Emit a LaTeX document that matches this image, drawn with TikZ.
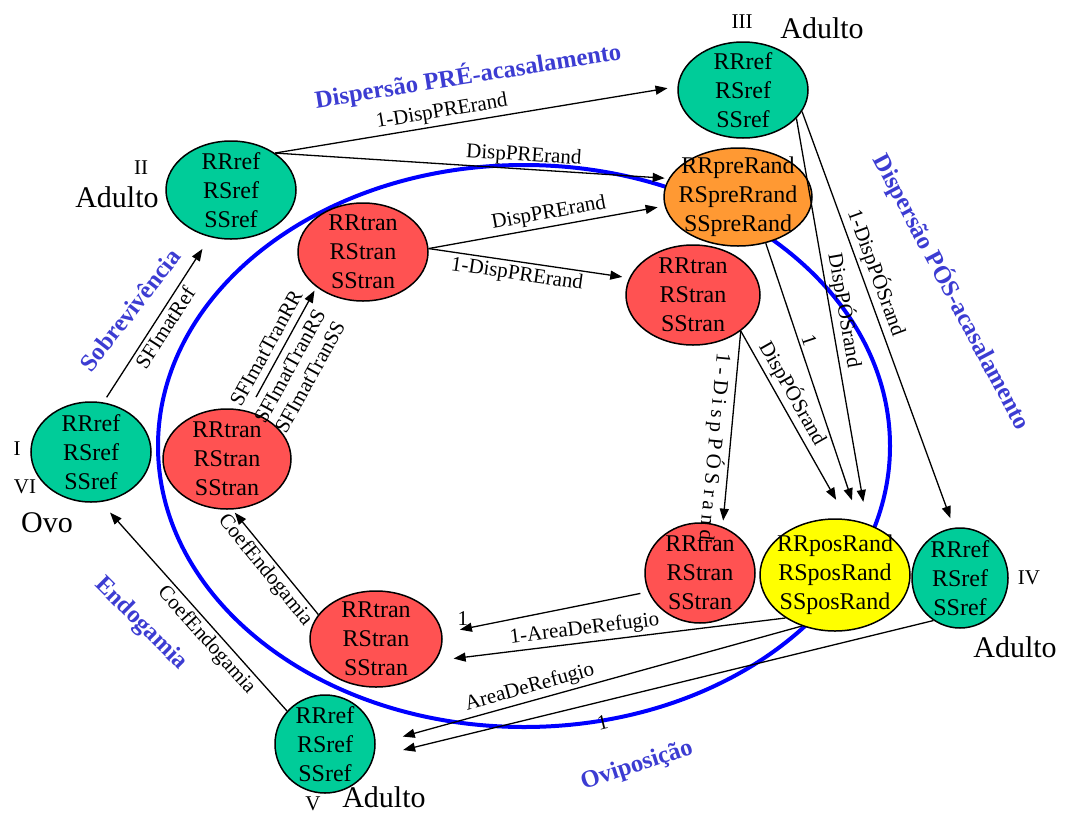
\documentclass[tikz,border=0pt]{standalone}
\usepackage{fontspec}
\setmainfont{Liberation Serif}
\usepackage{tikz}
\usetikzlibrary{shapes.geometric,arrows.meta}
\definecolor{verde}{RGB}{0,204,153}
\definecolor{vermelho}{RGB}{255,82,82}
\definecolor{laranja}{RGB}{255,153,51}
\definecolor{amarelo}{RGB}{255,255,0}
\definecolor{azulfase}{RGB}{60,60,210}
\tikzset{
  estagio/.style={ellipse, draw, line width=0.75pt, inner sep=0pt},
  gref/.style={estagio, fill=verde},
  gtran/.style={estagio, fill=vermelho},
  gpre/.style={estagio, fill=laranja},
  gpos/.style={estagio, fill=amarelo},
  genotipo/.style={align=center, inner sep=0pt, font=\fontsize{12}{14.5}\selectfont},
  taxa/.style={inner sep=1.5pt, font=\fontsize{10.5}{11.5}\selectfont},
  fase/.style={text=azulfase, font=\bfseries\fontsize{12.3}{14}\selectfont},
  rotulo/.style={font=\fontsize{15}{17}\selectfont},
  numeral/.style={font=\fontsize{10.5}{12}\selectfont},
  seta/.style={-{Triangle[length=6pt,width=4.5pt]}, line width=0.65pt, shorten >=2pt},
}

\begin{document}
\begin{tikzpicture}[x=0.5pt,y=-0.5pt]
\useasboundingbox (0,0) rectangle (1076,814);

% ciclo
\draw[blue, line width=2pt] (524,446) ellipse [x radius=183pt, y radius=140.5pt];

% estagios
\node[gref, minimum width=60pt, minimum height=50pt, label={[genotipo]center:RRref\\RSref\\SSref}] (ovo) at (91,452) {};
\node[gref, minimum width=65pt, minimum height=49pt, label={[genotipo]center:RRref\\RSref\\SSref}] (adII) at (231,190) {};
\node[gref, minimum width=65pt, minimum height=48pt, label={[genotipo]center:RRref\\RSref\\SSref}] (adIII) at (743,90) {};
\node[gpre, minimum width=74pt, minimum height=49pt, label={[genotipo]center:RRpreRand\\RSpreRrand\\SSpreRand}] (pre) at (738,197) {};
\node[gtran, minimum width=65pt, minimum height=49pt, label={[genotipo]center:RRtran\\RStran\\SStran}] (tranA) at (363,252) {};
\node[gtran, minimum width=67pt, minimum height=50pt, label={[genotipo]center:RRtran\\RStran\\SStran}] (tranB) at (693,295) {};
\node[gtran, minimum width=55pt, minimum height=50pt, label={[genotipo]center:RRtran\\RStran\\SStran}] (tranC) at (700,573) {};
\node[gpos, minimum width=75pt, minimum height=56pt, label={[genotipo]center:RRposRand\\RSposRand\\SSposRand}] (pos) at (835,575) {};
\node[gref, minimum width=48pt, minimum height=50pt, label={[genotipo]center:RRref\\RSref\\SSref}] (adIV) at (960,578) {};
\node[gtran, minimum width=66pt, minimum height=48pt, label={[genotipo]center:RRtran\\RStran\\SStran}] (tranD) at (376,639) {};
\node[gref, minimum width=50pt, minimum height=49pt, label={[genotipo]center:RRref\\RSref\\SSref}] (adV) at (325,744) {};
\node[gtran, minimum width=64pt, minimum height=50pt, label={[genotipo]center:RRtran\\RStran\\SStran}] (tranE) at (227,459) {};

% rotulos
\node[numeral] (nI) at (17,449) {I};
\node[numeral] (nVI) at (25,487) {VI};
\node[rotulo] (ovoTxt) at (47,523) {Ovo};
\node[numeral] (nII) at (141,168) {II};
\node[rotulo] (adIITxt) at (117,197) {Adulto};
\node[numeral] (nIII) at (742,22) {III};
\node[rotulo] (adIIITxt) at (822,28) {Adulto};
\node[numeral] (nIV) at (1029,578) {IV};
\node[rotulo] (adIVTxt) at (1015,647) {Adulto};
\node[numeral] (nV) at (313,804) {V};
\node[rotulo] (adVTxt) at (384,797) {Adulto};

% fases
\node[fase, rotate=9] (fPre) at (468,76) {Dispersão PRÉ-acasalamento};
\node[fase, rotate=-62] (fPos) at (952,292) {Dispersão PÓS-acasalamento};
\node[fase, rotate=18] (fOvi) at (637,766) {Oviposição};
\node[fase, rotate=-45] (fEnd) at (141,624) {Endogamia};
\node[fase, rotate=52] (fSob) at (130,310) {Sobrevivência};

% dispersao pre
\draw[seta, shorten >=5pt] (adII.40) -- node[taxa, sloped, above, pos=0.42] {1-DispPRErand} (adIII.177);
\draw[seta] (adII.40) -- node[taxa, sloped, above, pos=0.63] {DispPRErand} (pre.165);
\draw[seta, shorten >=3.5pt] (tranA.3) -- node[taxa, sloped, above, pos=0.52] {DispPRErand} (pre.187);
\draw[seta, shorten >=3.5pt] (tranA.3) -- node[taxa, sloped, below, pos=0.45] {1-DispPRErand} (tranB.165);

% dispersao pos
\draw[seta, shorten >=3pt] (tranB.-37) -- node[taxa, sloped, below, pos=0.6, allow upside down] {\addfontfeature{LetterSpace=22}1-DispPÓSrand} (tranC.64);
\draw[seta, shorten >=11pt] (tranB.-37) -- node[taxa, sloped, above, pos=0.37] {DispPÓSrand} (pos.78);
\draw[seta, shorten >=11pt] (pre.-59) -- node[taxa, sloped, above, pos=0.36] {1} (pos.66);
\draw[seta, shorten >=11pt] (adIII.-28) -- node[taxa, sloped, above, pos=0.48] {DispPÓSrand} (pos.58);
\draw[seta, shorten >=5pt] (adIII.-20) -- node[taxa, sloped, above, pos=0.40] {1-DispPÓSrand} (adIV.97);

% oviposicao
\draw[seta, shorten <=4pt, shorten >=9pt] (tranC.200) -- node[taxa, above, pos=0.9] {1} (tranD.5);
\draw[seta, shorten >=9pt] (pos.221) -- node[taxa, sloped, above, pos=0.57] {1-AreaDeRefugio} (tranD.-20);
\draw[seta, shorten >=14pt] (pos.237) -- node[taxa, sloped, above, pos=0.63] {AreaDeRefugio} (adV.0);
\draw[seta, shorten >=15pt] (adIV.238) -- node[taxa, sloped, below=5pt, pos=0.6] {1} (adV.-15);

% endogamia
\draw[seta, shorten >=2pt] (tranD.157) -- node[taxa, sloped, below, pos=0.5] {CoefEndogamia} (tranE.276);
\draw[seta, shorten >=7pt] (adV.139) -- node[taxa, sloped, below, pos=0.38] {CoefEndogamia} (ovo.281);

% sobrevivencia
\draw[seta, shorten <=3pt, shorten >=7pt] (ovo.76) -- node[taxa, sloped, below, pos=0.49] {SFImatRef} (adII.246);
\draw[seta, shorten <=8pt] (tranE.66) -- node[taxa, sloped, above=2pt, pos=0.45] {SFImatTranRR} node[taxa, sloped, below=2pt, pos=0.42, align=center] {SFImatTranRS\\SFImatTranSS} (tranA.217);
\end{tikzpicture}
\end{document}
